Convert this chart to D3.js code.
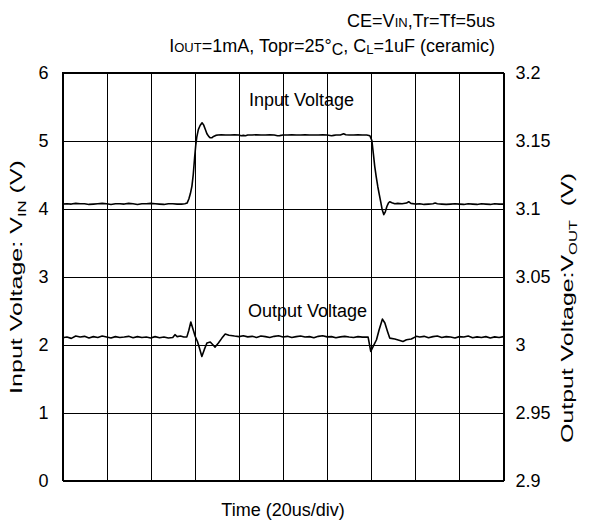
<!DOCTYPE html>
<html>
<head>
<meta charset="utf-8">
<script src="https://cdn.jsdelivr.net/npm/d3@7"></script>
<style>
  body { margin: 0; background: #fff; }
  text { font-family: "Liberation Sans", Arial, sans-serif; fill: #000; }
</style>
</head>
<body>
<svg id="chart" width="590" height="528"></svg>
<script>
// time in us
let inputTime = [0, 2, 4, 6, 8, 10, 12, 14, 16, 18, 20, 22, 24, 26, 28, 30, 32, 34, 36, 38, 40, 42, 44, 46, 48, 50, 52, 54, 55.5,
  56.5, 57.3, 58, 58.7, 59.3, 59.9, 60.4, 60.9, 61.6, 62.4, 63.3, 64, 64.7, 65.5, 66.3, 67, 67.7, 68.5, 69.5, 70.5, 72, 74, 76, 78,
  80, 81, 82, 83, 84, 86, 88, 90, 92, 94, 96, 97.5, 98.5, 100, 102, 104, 106, 108, 110, 112, 114, 116, 118, 120, 122, 123, 124,
  126, 127.5, 128.5, 130, 132, 134, 136, 138, 139.4, 140.3, 141, 141.6, 142.3, 143, 143.7, 144.3, 145, 145.7, 146.4, 147.1,
  147.8, 148.4, 149.4, 150.7, 152, 154, 156, 157, 158, 160, 162, 164, 166, 168, 169, 170, 172, 174, 176, 178, 180, 182, 184,
  186, 188, 190, 192, 194, 196, 198, 200];
let inputVoltage = [4.065, 4.07, 4.065, 4.075, 4.07, 4.07, 4.06, 4.065, 4.07, 4.075, 4.07, 4.06, 4.07, 4.07, 4.065, 4.075, 4.07,
  4.06, 4.07, 4.07, 4.075, 4.07, 4.065, 4.06, 4.07, 4.07, 4.065, 4.065, 4.07,
  4.08, 4.14, 4.22, 4.33, 4.5, 4.74, 4.92, 5.05, 5.16, 5.22, 5.26, 5.23, 5.17, 5.1, 5.06, 5.04, 5.04, 5.06, 5.075, 5.08, 5.085,
  5.08, 5.08, 5.085,
  5.08, 5.07, 5.075, 5.07, 5.08, 5.08, 5.085, 5.08, 5.08, 5.085, 5.08, 5.07, 5.072, 5.08, 5.08, 5.085, 5.08, 5.08, 5.085, 5.08,
  5.08, 5.08, 5.085, 5.08, 5.07, 5.075, 5.08,
  5.08, 5.1, 5.085, 5.08, 5.08, 5.085, 5.08, 5.08, 5.07, 5.0, 4.8, 4.62, 4.46, 4.32, 4.2, 4.1, 3.98, 3.91, 3.95, 4.03,
  4.08, 4.1, 4.085, 4.07, 4.075, 4.07, 4.08, 4.1, 4.075, 4.065, 4.07, 4.06, 4.065, 4.07, 4.08, 4.07, 4.065, 4.06, 4.065, 4.07,
  4.065, 4.06, 4.07, 4.065, 4.06, 4.07, 4.065, 4.06, 4.07, 4.065, 4.065, 4.07];

let outputTime = [0, 2, 4, 6, 8, 10, 12, 14, 16, 18, 20, 22, 24, 26, 28, 30, 32, 34, 36, 38, 40, 42, 44, 46, 48, 50, 51, 52,
  53.5, 55, 56.4, 57.3, 58.2, 59.2, 60.2, 61.2, 62.1, 63.2, 64.3, 65.5, 67, 68.2, 69.2, 70.7, 72.3, 73.8, 75.5, 78, 80, 82, 84,
  86, 88, 90, 92, 94, 96, 98, 100, 102, 104, 106, 108, 110, 112, 114, 116, 118, 120, 122, 124, 126, 128, 130, 132, 134, 136,
  138.6, 139.8, 140.9, 142.4, 143.6, 145.1, 146.2, 147.4, 148.4, 150.7, 153, 154.4, 156, 158.2, 160.5, 162, 164, 166, 168,
  170, 172, 174, 176, 178, 180, 182, 184, 186, 188, 190, 192, 194, 196, 198, 200];
let outputVoltage = [3.005, 3.0055, 3.0045, 3.0062, 3.0055, 3.006, 3.0048, 3.0058, 3.0052, 3.0062, 3.0055, 3.0048, 3.0058,
  3.0052, 3.0055, 3.006, 3.005, 3.0058, 3.0052, 3.0055, 3.0048, 3.0058, 3.005, 3.0055, 3.0048, 3.0052, 3.0072, 3.0058,
  3.0062, 3.0055, 3.0056, 3.0105, 3.0165, 3.0112, 3.0059, 3.0022, 2.9974, 2.9912, 2.9962, 3.0011, 3.0018, 2.9998, 2.9981,
  3.0011, 3.0047, 3.0077, 3.0068, 3.0062, 3.0058, 3.0064, 3.0056, 3.006, 3.0052, 3.0062, 3.0058, 3.0052, 3.006, 3.0064,
  3.0055, 3.006, 3.0052, 3.0058, 3.0062, 3.0055, 3.0058, 3.005, 3.006, 3.0064, 3.0056, 3.0058, 3.005, 3.0056, 3.006,
  3.0055, 3.0052, 3.0058, 3.0054,
  3.0055, 2.9949, 2.9986, 3.0035, 3.0108, 3.0187, 3.0158, 3.0096, 3.0047, 3.004, 3.003, 3.0022, 3.0035, 3.004, 3.006,
  3.0055, 3.006, 3.005, 3.0058, 3.0062, 3.0052, 3.0058, 3.0055, 3.0048, 3.0058, 3.0055, 3.0062, 3.005, 3.0056, 3.0052,
  3.0058, 3.0048, 3.0056, 3.0052, 3.0058];

let leftTicks = [0, 1, 2, 3, 4, 5, 6];
let rightTicks = [2.9, 2.95, 3, 3.05, 3.1, 3.15, 3.2];
let timeTicks = [0, 20, 40, 60, 80, 100, 120, 140, 160, 180, 200];

let svg = d3.select("#chart");

let plotLeft = 62.5, plotRight = 503.5, plotTop = 72.5, plotBottom = 480.5;

let x = d3.scaleLinear().domain([0, 200]).range([plotLeft, plotRight]);
let yLeft = d3.scaleLinear().domain([0, 6]).range([plotBottom, plotTop]);
let yRight = d3.scaleLinear().domain([2.9, 3.2]).range([plotBottom, plotTop]);

// grid + tick labels
let leftAxis = svg.append("g")
  .attr("transform", "translate(" + plotLeft + ",0)")
  .call(d3.axisLeft(yLeft).tickValues(leftTicks).tickSize(-(plotRight - plotLeft)).tickPadding(14).tickFormat(d3.format("d")));

let rightAxis = svg.append("g")
  .attr("transform", "translate(" + plotRight + ",0)")
  .call(d3.axisRight(yRight).tickValues(rightTicks).tickSize(0).tickPadding(12).tickFormat((d) => String(+d.toFixed(2))));

let bottomAxis = svg.append("g")
  .attr("transform", "translate(0," + plotBottom + ")")
  .call(d3.axisBottom(x).tickValues(timeTicks).tickSize(-(plotBottom - plotTop)).tickFormat(""));

[leftAxis, rightAxis, bottomAxis].forEach((g) => {
  g.select(".domain").remove();
  g.selectAll("line").attr("stroke", "#000").attr("stroke-width", 1).attr("shape-rendering", "crispEdges");
  g.selectAll("text").attr("font-size", 18).attr("font-family", null).attr("dy", "0.36em");
});

svg.append("rect")
  .attr("x", plotLeft).attr("y", plotTop)
  .attr("width", plotRight - plotLeft).attr("height", plotBottom - plotTop)
  .attr("fill", "none").attr("stroke", "#000").attr("shape-rendering", "crispEdges");

// traces
let inputLine = d3.line()
  .x((d, i) => x(inputTime[i]))
  .y((d) => yLeft(d));

let outputLine = d3.line()
  .x((d, i) => x(outputTime[i]))
  .y((d) => yRight(d));

svg.append("path")
  .datum(inputVoltage)
  .attr("d", inputLine)
  .attr("fill", "none").attr("stroke", "#000").attr("stroke-width", 1.6).attr("stroke-linejoin", "round");

svg.append("path")
  .datum(outputVoltage)
  .attr("d", outputLine)
  .attr("fill", "none").attr("stroke", "#000").attr("stroke-width", 1.6).attr("stroke-linejoin", "round");

// in-plot labels
svg.append("text").attr("x", 249).attr("y", 106).attr("font-size", 18).text("Input Voltage");
svg.append("text").attr("x", 248).attr("y", 317).attr("font-size", 18).text("Output Voltage");

// conditions
let cond1 = svg.append("text").attr("x", 495).attr("y", 27).attr("font-size", 18).attr("text-anchor", "end");
cond1.append("tspan").text("CE=V");
cond1.append("tspan").attr("font-size", 13).text("IN");
cond1.append("tspan").text(",Tr=Tf=5us");

let cond2 = svg.append("text").attr("x", 495).attr("y", 52).attr("font-size", 18).attr("text-anchor", "end");
cond2.append("tspan").text("I");
cond2.append("tspan").attr("font-size", 13).text("OUT");
cond2.append("tspan").text("=1mA, Topr=25°");
cond2.append("tspan").attr("font-size", 16).attr("dy", 3).text("C");
cond2.append("tspan").attr("dy", -3).text(", C");
cond2.append("tspan").attr("font-size", 13).attr("dy", 2).text("L");
cond2.append("tspan").attr("dy", -2).text("=1uF (ceramic)");

// axis titles
svg.append("text").attr("x", 283).attr("y", 516).attr("font-size", 18).attr("text-anchor", "middle").text("Time (20us/div)");

let stretch = (label, cx, cy, len) => {
  let w = label.node().getComputedTextLength();
  label.attr("transform", "translate(" + cx + "," + cy + ") rotate(-90) scale(" + len / w + ",1)");
};

let yTitleLeft = svg.append("text").attr("font-size", 16.5).attr("text-anchor", "middle");
yTitleLeft.append("tspan").text("Input Voltage: V");
yTitleLeft.append("tspan").attr("font-size", 11).attr("dy", 4).text("IN");
yTitleLeft.append("tspan").attr("dy", -4).text(" (V)");
stretch(yTitleLeft, 22, 277, 234);

let yTitleRight = svg.append("text").attr("font-size", 16.5).attr("text-anchor", "middle").attr("xml:space", "preserve");
yTitleRight.append("tspan").text("Output Voltage:V");
yTitleRight.append("tspan").attr("font-size", 11).attr("dy", 4).text("OUT");
yTitleRight.append("tspan").attr("dy", -4).text("  (V)");
stretch(yTitleRight, 573, 308, 270);
</script>
</body>
</html>
